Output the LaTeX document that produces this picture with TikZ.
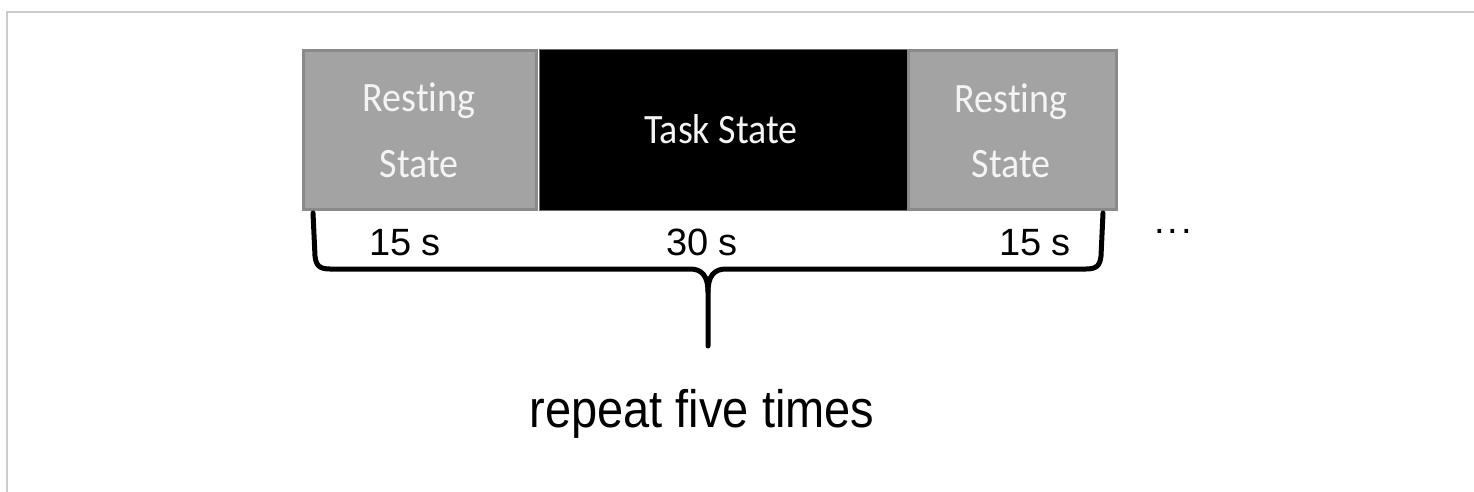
\documentclass[tikz,border=0pt]{standalone}
\usepackage{fontspec}
\setmainfont{Liberation Sans}
\newfontfamily\calibri[Ligatures=NoCommon]{Carlito}
\begin{document}
\begin{tikzpicture}[x=1pt,y=-1pt,
  rest/.style={draw=restedge,line width=3pt,fill=restfill,inner sep=0pt},
  task/.style={draw=taskedge,line width=1pt,fill=black,inner sep=0pt},
  boxtext/.style={text=boxtxt,font=\calibri\fontsize{38}{40}\selectfont,anchor=base,inner sep=0pt},
  dur/.style={font=\fontsize{38}{40}\selectfont,anchor=base,inner sep=0pt},
  brace/.style={line width=5pt,line cap=round,line join=round}]
\definecolor{restfill}{HTML}{A3A3A3}
\definecolor{restedge}{HTML}{8A8A8A}
\definecolor{taskedge}{HTML}{6A6A6A}
\definecolor{boxtxt}{HTML}{F4F4F4}
\definecolor{framegray}{HTML}{CBCBCB}
\useasboundingbox (0,0) rectangle (1474,492);
% frame
\draw[framegray,line width=2pt] (6.5,492) -- (6.5,12) -- (1474,12);
% blocks
\path[rest] (303,51) rectangle (536,209);
\path[task] (539,50) rectangle (907,210);
\path[rest] (908,51) rectangle (1116,209);
% block labels
\node[boxtext] (r1a) at (419,112) {\scalebox{1}[1.1]{Resting}};
\node[boxtext] (r1b) at (419,177) {\scalebox{1}[1.1]{State}};
\node[boxtext] (t) at (721,143) {\scalebox{1}[1.1]{Task State}};
\node[boxtext] (r2a) at (1011,113) {\scalebox{1}[1.1]{Resting}};
\node[boxtext] (r2b) at (1011,177) {\scalebox{1}[1.1]{State}};
% durations
\node[dur] (d1) at (405,255) {15 s};
\node[dur] (d2) at (702,255) {30 s};
\node[dur] (d3) at (1035,255) {15 s};
\node[dur] (dots) at (1173,233) {.\hspace{3pt}.\hspace{3pt}.};
% brace
\coordinate (bl) at (313,213);
\coordinate (br) at (1103,213);
\coordinate (tip) at (708,346);
\draw[brace] (bl) -- (315,256) .. controls (316,266) and (320,269) .. (330,269)
  -- (690,269) .. controls (702,269) and (708,276) .. (708,292) -- (tip);
\draw[brace] (br) -- (1101,256) .. controls (1100,266) and (1096,269) .. (1086,269)
  -- (726,269) .. controls (714,269) and (708,276) .. (708,292);
% caption
\node[font=\fontsize{47}{50}\selectfont,anchor=base,inner sep=0pt] (cap) at (702,427) {\scalebox{1.0}[1.12]{repeat five times}};
\end{tikzpicture}
\end{document}
